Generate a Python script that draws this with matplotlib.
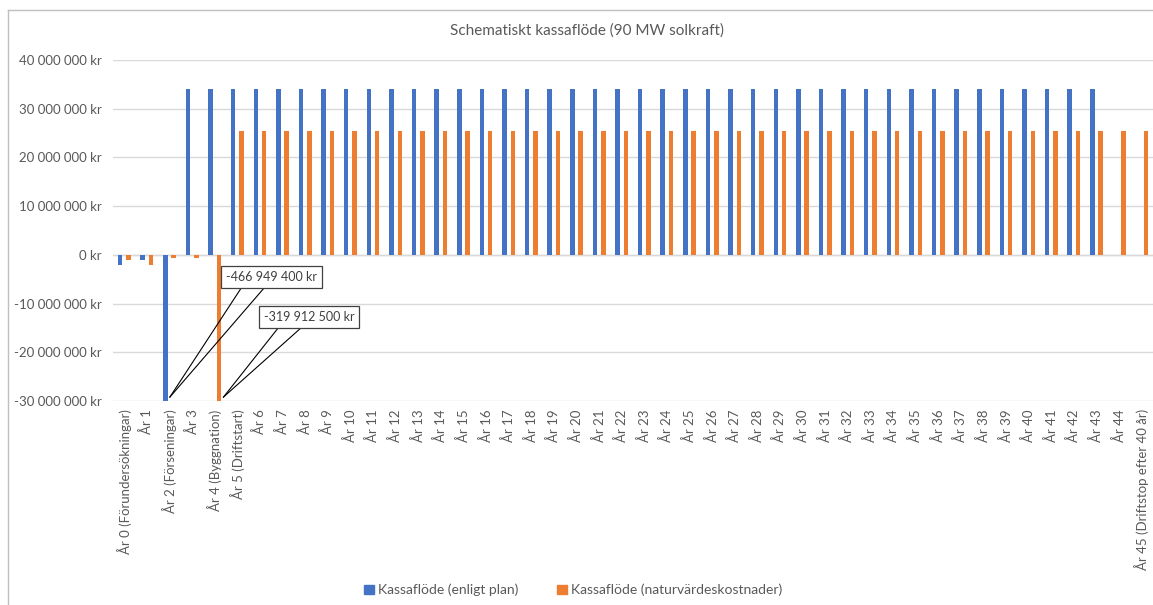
import numpy as np
import matplotlib.pyplot as plt
import matplotlib as mpl
from matplotlib.lines import Line2D
from matplotlib.ticker import FuncFormatter

mpl.rcParams.update({
    "font.family": ["Lato", "DejaVu Sans"],
    "font.size": 9.5,
    "text.color": "#595959",
    "xtick.color": "#595959",
    "ytick.color": "#595959",
})

BLUE = "#4472C4"
ORANGE = "#ED7D31"

# category labels
years = [f"År {i}" for i in range(46)]
years[0] = "År 0 (Förundersökningar)"
years[2] = "År 2 (Förseningar)"
years[4] = "År 4 (Byggnation)"
years[5] = "År 5 (Driftstart)"
years[45] = "År 45 (Driftstop efter 40 år)"

# cash flow, kr
plan = [-2_000_000, -1_000_000, -466_949_400] + [34_000_000] * 41 + [0, 0]
nature = [-1_000_000, -2_000_000, -600_000, -600_000, -319_912_500] + [25_400_000] * 41

y_min, y_max = -30_000_000, 40_000_000

fig = plt.figure(figsize=(11.53, 6.05), dpi=100)
ax = fig.add_axes([113 / 1153, 1 - 401 / 605, 1040 / 1153, 341 / 605])

x = np.arange(len(years))
w = 0.2
ax.bar(x - 0.185, plan, width=w, color=BLUE, label="Kassaflöde (enligt plan)", zorder=3)
ax.bar(x + 0.185, nature, width=w, color=ORANGE, label="Kassaflöde (naturvärdeskostnader)", zorder=3)

ax.set_xlim(-0.5, len(years) - 0.5)
ax.set_ylim(y_min, y_max)
ax.set_yticks(np.arange(y_min, y_max + 1, 10_000_000))
ax.yaxis.set_major_formatter(FuncFormatter(lambda v, p: f"{v:,.0f} kr".replace(",", " ")))
ax.grid(axis="y", color="#D9D9D9", linewidth=1, zorder=0)
ax.axhline(0, color="#D9D9D9", linewidth=1, zorder=1)

ax.set_xticks(x)
ax.set_xticklabels(years, rotation=90, fontsize=9.5)
ax.tick_params(axis="both", length=0, pad=6)
ax.tick_params(axis="y", labelsize=9.5, pad=8)
for s in ax.spines.values():
    s.set_visible(False)

# callouts for the bars that run off the bottom of the scale
def callout(idx, offset, value, tx, ty):
    tip_x, tip_y = idx + offset + 0.2, y_min + 800_000
    ax.text(tx, ty, f"{value:,.0f} kr".replace(",", " "), ha="center", va="center",
            fontsize=9, color="#404040", zorder=6,
            bbox=dict(boxstyle="square,pad=0.4", fc="white", ec="#404040", lw=0.9))
    base_y = ty - 2_050_000
    for bx in (tx - 1.33, tx - 0.31):
        ax.plot([tip_x, bx], [tip_y, base_y], color="black", lw=0.8, zorder=5)

callout(2, -0.185, plan[2], 6.53, -4_550_000)
callout(4, 0.185, nature[4], 8.17, -12_760_000)

fig.suptitle("Schematiskt kassaflöde (90 MW solkraft)", x=587 / 1153, y=1 - 31 / 605,
             va="center", fontsize=11, color="#595959")

handles = [plt.Rectangle((0, 0), 1, 1, color=BLUE), plt.Rectangle((0, 0), 1, 1, color=ORANGE)]
fig.legend(handles, ["Kassaflöde (enligt plan)", "Kassaflöde (naturvärdeskostnader)"],
           loc="center", bbox_to_anchor=(573 / 1153, 1 - 590 / 605), ncol=2, frameon=False,
           handlelength=0.7, handleheight=0.7, handletextpad=0.3, columnspacing=2.8, fontsize=10)

# chart border
fig.add_artist(Line2D([8 / 1153, 8 / 1153], [0, 1 - 10 / 605], color="#BFBFBF", lw=1,
                      transform=fig.transFigure))
fig.add_artist(Line2D([8 / 1153, 1], [1 - 10 / 605, 1 - 10 / 605], color="#BFBFBF", lw=1,
                      transform=fig.transFigure))

fig.savefig("out.png", dpi=100, facecolor="white")
